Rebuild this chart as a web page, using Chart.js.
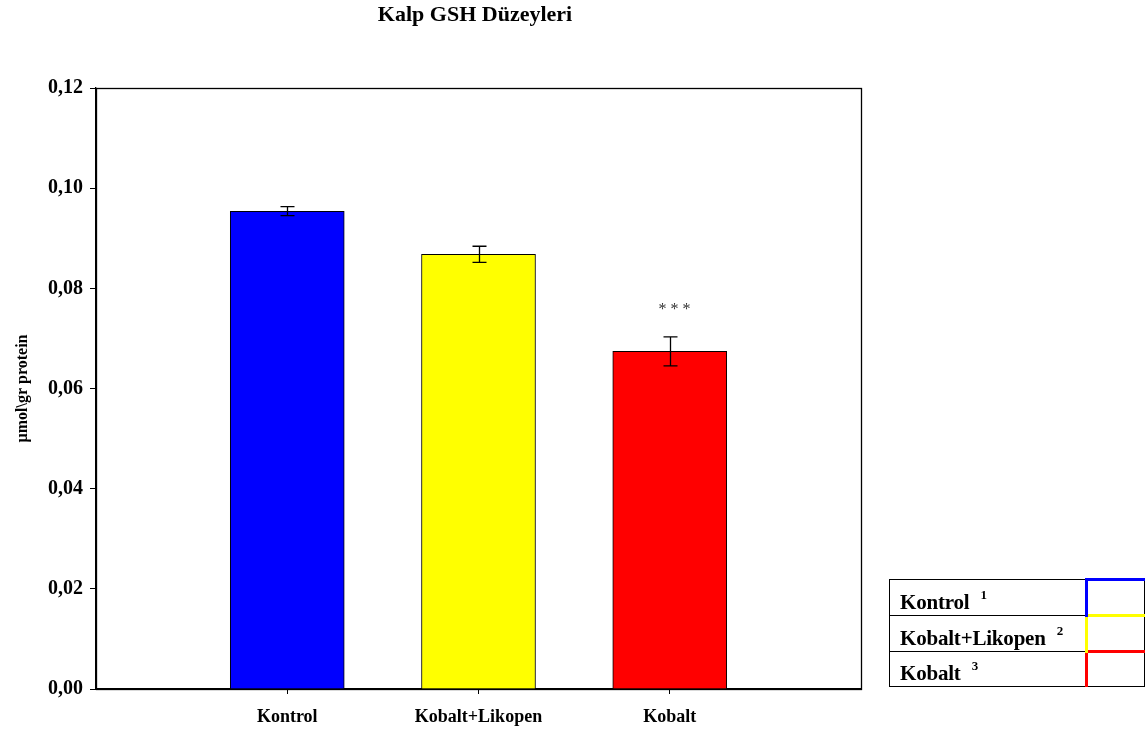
<!DOCTYPE html>
<html>
<head>
<meta charset="utf-8">
<script src="https://cdn.jsdelivr.net/npm/chart.js@4.4.1/dist/chart.umd.min.js"></script>
<style>
  html, body { margin: 0; padding: 0; background: #fff; }
  #wrap { position: relative; width: 1146px; height: 730px; }
  #c { position: absolute; left: 0; top: 0; }
  #key {
    position: absolute; left: 889px; top: 578px; width: 256px;
    border-collapse: collapse; font-family: "Liberation Serif", "Times New Roman", serif;
    font-weight: bold; font-size: 21px; color: #000;
  }
  #key td { border: 1.5px solid #000; height: 33px; padding: 0; }
  #key td.name { padding-left: 10px; vertical-align: bottom; padding-bottom: 0; letter-spacing: -0.2px; }
  #key td.name sup { font-size: 13px; margin-left: 11px; vertical-align: 10px; }
  #key td.sw { width: 56px; }
</style>
</head>
<body>
<div id="wrap">
  <canvas id="c" width="1146" height="730"></canvas>
  <table id="key"></table>
</div>
<script>
// Heart GSH levels per group
const groups = ['Kontrol', 'Kobalt+Likopen', 'Kobalt'];
const positions = [1, 2, 3];
const means = [0.0954, 0.0868, 0.0674];
const errors = [0.0009, 0.0016, 0.0029];
const colors = ['#0000ff', '#ffff00', '#ff0000'];
const marks = ['', '', '* * *'];
const yTicks = [0, 0.02, 0.04, 0.06, 0.08, 0.10, 0.12];
const legendNotes = ['1', '2', '3'];

const serif = '"Liberation Serif", "Times New Roman", serif';

// Legend table
const key = document.getElementById('key');
groups.forEach((g, i) => {
  const tr = document.createElement('tr');
  const name = document.createElement('td');
  name.className = 'name';
  name.textContent = g;
  const sup = document.createElement('sup');
  sup.textContent = legendNotes[i];
  name.appendChild(sup);
  const sw = document.createElement('td');
  sw.className = 'sw';
  sw.style.borderTop = '3px solid ' + colors[i];
  sw.style.borderLeft = '3px solid ' + colors[i];
  tr.appendChild(name);
  tr.appendChild(sw);
  key.appendChild(tr);
});

// Error bars, significance marks, frame and title
const extras = {
  id: 'extras',
  afterDatasetsDraw(chart) {
    const { ctx, chartArea: a } = chart;
    const xs = chart.scales.x, ys = chart.scales.y;
    ctx.save();
    ctx.strokeStyle = '#000';
    ctx.lineWidth = 1.3;
    positions.forEach((p, i) => {
      const x = Math.round(xs.getPixelForValue(p)) + 0.5;
      const top = ys.getPixelForValue(means[i] + errors[i]);
      const bot = ys.getPixelForValue(means[i] - errors[i]);
      ctx.beginPath();
      ctx.moveTo(x, top); ctx.lineTo(x, bot);
      ctx.moveTo(x - 7, top); ctx.lineTo(x + 7, top);
      ctx.moveTo(x - 7, bot); ctx.lineTo(x + 7, bot);
      ctx.stroke();
      if (marks[i]) {
        ctx.fillStyle = '#333';
        ctx.font = '16px ' + serif;
        ctx.textAlign = 'center';
        ctx.textBaseline = 'middle';
        ctx.fillText(marks[i], x + 4, top - 27);
      }
    });
    // plot frame
    ctx.lineWidth = 1.3;
    ctx.strokeRect(Math.round(a.left) + 0.5, Math.round(a.top) + 0.5,
                   Math.round(a.right - a.left), Math.round(a.bottom - a.top));
    // title
    ctx.fillStyle = '#000';
    ctx.font = 'bold 22px ' + serif;
    ctx.textAlign = 'center';
    ctx.textBaseline = 'middle';
    ctx.fillText('Kalp GSH Düzeyleri', 475, 15);
    ctx.restore();
  }
};

new Chart(document.getElementById('c'), {
  type: 'bar',
  data: {
    datasets: [{
      data: positions.map((p, i) => ({ x: p, y: means[i] })),
      backgroundColor: colors,
      borderColor: '#000',
      borderWidth: 1,
      barThickness: 114
    }]
  },
  options: {
    responsive: false,
    animation: false,
    layout: { padding: { top: 88, right: 285, bottom: 0, left: 0 } },
    plugins: { legend: { display: false }, tooltip: { enabled: false }, title: { display: false } },
    scales: {
      x: {
        type: 'linear',
        min: 0, max: 4,
        offset: false,
        afterBuildTicks(s) { s.ticks = positions.map(v => ({ value: v })); },
        afterFit(s) { s.height = 41; },
        grid: { offset: false, drawOnChartArea: false, drawTicks: true, tickLength: 5, color: '#000' },
        border: { display: true, color: '#000', width: 1.3 },
        ticks: {
          color: '#000', padding: 13, maxRotation: 0, autoSkip: false,
          font: { family: serif, weight: 'bold', size: 18 },
          callback: (v) => groups[positions.indexOf(v)] || ''
        }
      },
      y: {
        min: 0, max: 0.12,
        afterBuildTicks(s) { s.ticks = yTicks.map(v => ({ value: v })); },
        afterFit(s) { s.width = 96; },
        grid: { drawOnChartArea: false, drawTicks: true, tickLength: 6, color: '#000' },
        border: { display: true, color: '#000', width: 1.3 },
        ticks: {
          color: '#000', padding: 7,
          font: { family: serif, weight: 'bold', size: 20 },
          callback: (v) => v.toFixed(2).replace('.', ',')
        },
        title: {
          display: true, text: 'µmol\\gr protein', color: '#000',
          font: { family: serif, weight: 'bold', size: 16 },
          padding: { top: 13, bottom: 0 }
        }
      }
    }
  },
  plugins: [extras]
});
</script>
</body>
</html>
